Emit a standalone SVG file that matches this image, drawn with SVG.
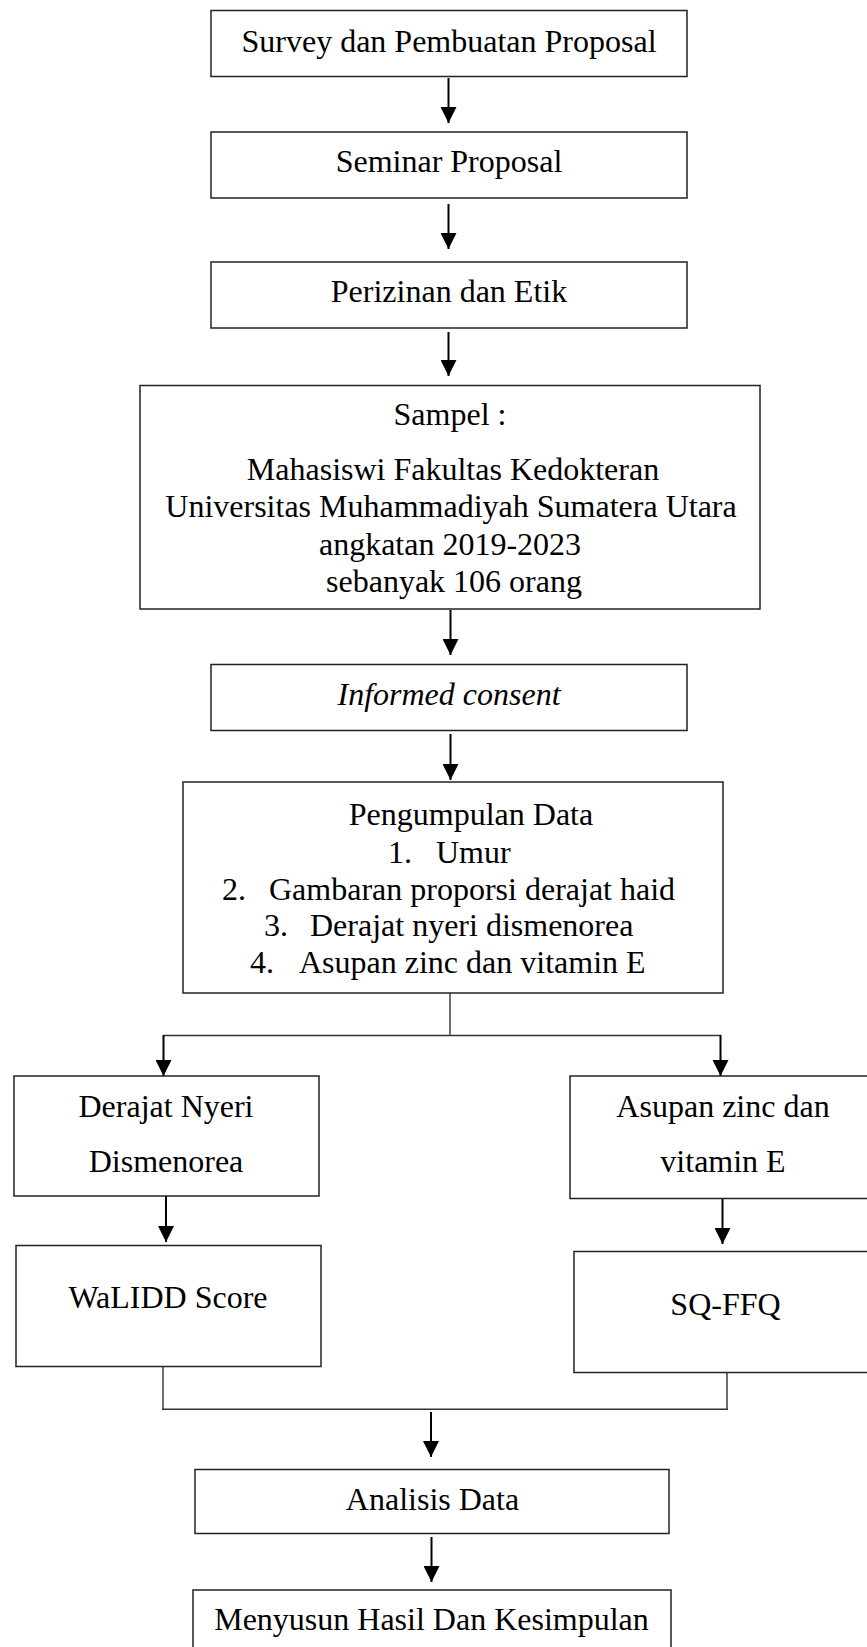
<svg xmlns="http://www.w3.org/2000/svg" width="867" height="1647" viewBox="0 0 867 1647">
<style>
.box{fill:#fff;stroke:#222;stroke-width:1.5}
.t{font-family:"Liberation Serif","Times New Roman",serif;font-size:32px;fill:#000;text-anchor:middle}
.s{text-anchor:start}
.i{font-style:italic}
.arr{stroke:#000;stroke-width:2;fill:none;marker-end:url(#ah)}
.ln{stroke:#333;stroke-width:1.4;fill:none}
</style>
<defs>
<marker id="ah" viewBox="0 0 16 16" markerWidth="16" markerHeight="16" markerUnits="userSpaceOnUse" refX="16" refY="8" orient="auto">
<path d="M0,0 L16,8 L0,16 z" fill="#000"/>
</marker>
</defs>
<rect width="867" height="1647" fill="#fff"/>
<g id="connectors">
<line class="arr" x1="448.5" y1="78" x2="448.5" y2="123"/>
<line class="arr" x1="448.5" y1="204" x2="448.5" y2="249"/>
<line class="arr" x1="448.5" y1="332" x2="448.5" y2="376"/>
<line class="arr" x1="450.5" y1="610" x2="450.5" y2="655"/>
<line class="arr" x1="450.5" y1="734" x2="450.5" y2="780"/>
<line class="ln" x1="450" y1="993" x2="450" y2="1035.5"/>
<line class="ln" x1="163" y1="1035.5" x2="721" y2="1035.5"/>
<line class="arr" x1="163.5" y1="1035" x2="163.5" y2="1076"/>
<line class="arr" x1="720.5" y1="1035" x2="720.5" y2="1076"/>
<line class="arr" x1="166" y1="1196" x2="166" y2="1242"/>
<line class="arr" x1="722.5" y1="1199" x2="722.5" y2="1244"/>
<line class="ln" x1="163" y1="1367" x2="163" y2="1409"/>
<line class="ln" x1="727" y1="1372" x2="727" y2="1410"/>
<line class="ln" x1="162" y1="1409.3" x2="728" y2="1409.3"/>
<line class="arr" x1="431" y1="1412" x2="431" y2="1457"/>
<line class="arr" x1="431.5" y1="1537" x2="431.5" y2="1582"/>
</g>
<g id="n1"><rect class="box" x="211" y="10.5" width="476" height="66"/><text class="t" x="449" y="52">Survey dan Pembuatan Proposal</text></g>
<g id="n2"><rect class="box" x="211" y="132" width="476" height="66"/><text class="t" x="449" y="172">Seminar Proposal</text></g>
<g id="n3"><rect class="box" x="211" y="262" width="476" height="66"/><text class="t" x="449" y="302">Perizinan dan Etik</text></g>
<g id="n4"><rect class="box" x="140" y="385.5" width="620" height="223.5"/>
<text class="t" x="450" y="425">Sampel :</text>
<text class="t" x="453" y="480">Mahasiswi Fakultas Kedokteran</text>
<text class="t" x="451" y="517">Universitas Muhammadiyah Sumatera Utara</text>
<text class="t" x="450" y="555">angkatan 2019-2023</text>
<text class="t" x="454" y="592">sebanyak 106 orang</text></g>
<g id="n5"><rect class="box" x="211" y="664.5" width="476" height="66"/><text class="t i" x="449" y="705">Informed consent</text></g>
<g id="n6"><rect class="box" x="183" y="782" width="540" height="211"/>
<text class="t" x="471" y="825">Pengumpulan Data</text>
<text class="t s" x="388" y="862.5">1.</text><text class="t s" x="436" y="862.5">Umur</text>
<text class="t s" x="222" y="899.5">2.</text><text class="t s" x="269" y="899.5">Gambaran proporsi derajat haid</text>
<text class="t s" x="264" y="936">3.</text><text class="t s" x="310" y="936">Derajat nyeri dismenorea</text>
<text class="t s" x="250" y="972.5">4.</text><text class="t s" x="299" y="972.5">Asupan zinc dan vitamin E</text></g>
<g id="n7"><rect class="box" x="14" y="1076" width="305" height="120"/>
<text class="t" x="166" y="1117">Derajat Nyeri</text>
<text class="t" x="166" y="1172">Dismenorea</text></g>
<g id="n8"><rect class="box" x="16" y="1245.5" width="305" height="121"/>
<text class="t" x="168" y="1308">WaLIDD Score</text></g>
<g id="n9"><rect class="box" x="570" y="1076" width="310" height="122.5"/>
<text class="t" x="723" y="1117">Asupan zinc dan</text>
<text class="t" x="723" y="1172">vitamin E</text></g>
<g id="n10"><rect class="box" x="574" y="1251.5" width="310" height="121"/>
<text class="t" x="725.5" y="1315">SQ-FFQ</text></g>
<g id="n11"><rect class="box" x="195" y="1469.5" width="474" height="64"/>
<text class="t" x="432.5" y="1510">Analisis Data</text></g>
<g id="n12"><rect class="box" x="193" y="1590" width="478" height="70"/>
<text class="t" x="431.5" y="1630">Menyusun Hasil Dan Kesimpulan</text></g>
</svg>
